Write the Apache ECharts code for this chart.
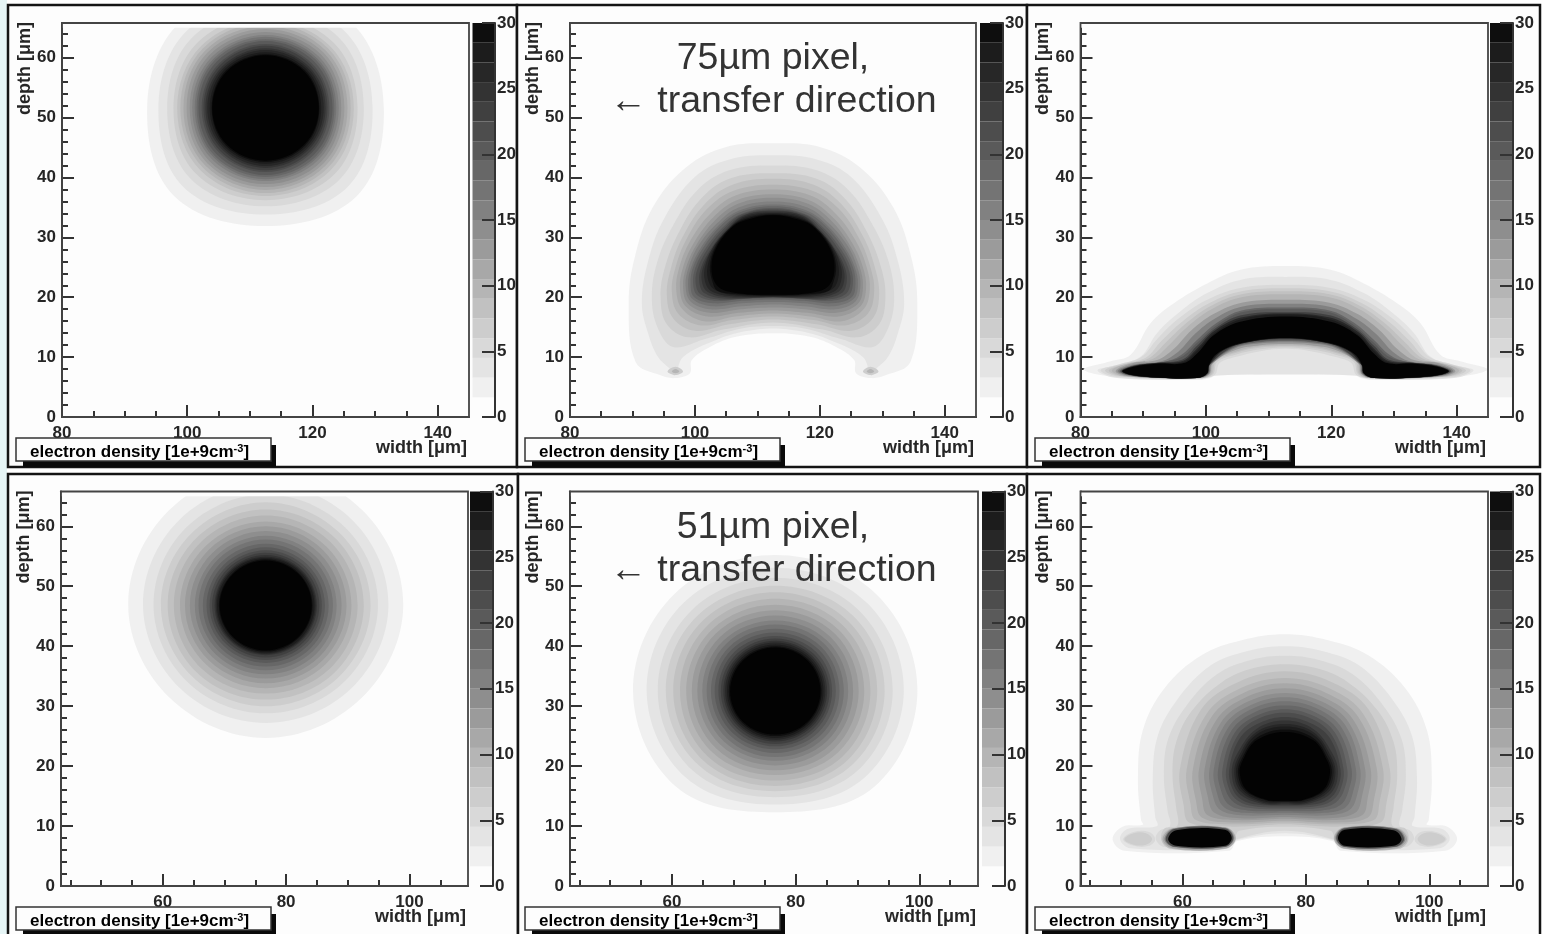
<!DOCTYPE html>
<html><head><meta charset="utf-8">
<style>html,body{margin:0;padding:0;background:#fff}#c{width:1546px;height:934px}</style>
<script src="https://cdn.jsdelivr.net/npm/echarts@6/dist/echarts.min.js"></script>
</head><body><div id="c"></div>
<script>
// ---- tick values ----
const topXMajor=[80,100,120,140];
const topXMinor=[85,90,95,105,110,115,125,130,135];
const botXMajor=[60,80,100];
const botXMinor=[45,50,55,65,70,75,85,90,95,105];
const yMajor=[0,10,20,30,40,50,60];
const yMinor=[2,4,6,8,12,14,16,18,22,24,26,28,32,34,36,38,42,44,46,48,52,54,56,58,62,64];
const scaleTicks=[0,5,10,15,20,25,30];
const scaleBands=[1.5,1.5,1.5,1.5,1.5,1.5,1.5,1.5,1.5,1.5,1.5,1.5,1.5,1.5,1.5,1.5,1.5,1.5,1.5,1.5];
// grey shade of each 1.5-wide density band (index = level / 1.5)
const greys=['#fdfdfd','#f0f0f0','#e4e4e4','#d9d9d9','#cdcdcd','#c1c1c1','#b5b5b5','#a8a8a8','#9b9b9b','#8e8e8e','#818181','#747474','#676767','#5a5a5a','#4d4d4d','#404040','#333333','#272727','#1c1c1c','#0e0e0e','#030303'];
const dataTopEdge=65;

// ---- near-round panels: level, reach (um) up, up-right, right, down-right, down ----
const blob1Centre=[112.5,51.6];
const blob1=[
[1.5,20,19.8,18.9,20.7,19.7],[3,18,18,17.1,18.6,17.8],[4.5,16.5,16.6,15.7,16.8,16.4],[6,15.4,15.4,14.7,15.6,15.4],
[7.5,14.7,14.6,14.1,14.7,14.7],[9,14.2,14.1,13.6,14.1,14.2],[10.5,13.7,13.6,13.1,13.6,13.7],[12,13.2,13.1,12.6,13.1,13.2],
[13.5,12.7,12.6,12.1,12.6,12.7],[15,12.2,12.1,11.7,12.1,12.2],[16.5,11.9,11.7,11.3,11.7,11.9],[18,11.5,11.4,11,11.4,11.5],
[19.5,11.2,11,10.7,11,11.2],[21,10.7,10.5,10.2,10.5,10.7],[22.5,10.4,10.2,9.9,10.2,10.4],[24,10,9.8,9.6,9.8,10],
[25.5,9.7,9.5,9.3,9.5,9.7],[27,9.3,9.2,8.9,9.2,9.3],[28.5,9,8.9,8.6,8.9,9],[30,8.8,8.7,8.5,8.7,8.8]];
const blob4Centre=[76.7,46.8];
const blob4=[
[1.5,22.8,22.3,22.3,21.9,22.1],[3,20.3,20,19.9,19.6,19.6],[4.5,18.5,18.3,18.2,18,18],[6,17.2,17,17,16.8,16.8],
[7.5,16,15.9,15.9,15.8,15.7],[9,15,14.9,14.9,14.8,14.7],[10.5,14,13.9,13.9,13.8,13.8],[12,13.2,13.1,13.1,13,13],
[13.5,12.4,12.3,12.3,12.2,12.2],[15,11.6,11.5,11.5,11.5,11.5],[16.5,11,10.9,10.9,10.8,10.8],[18,10.3,10.2,10.2,10.2,10.2],
[19.5,9.7,9.6,9.6,9.6,9.6],[21,9.2,9.1,9.1,9.1,9.1],[22.5,8.8,8.7,8.7,8.7,8.7],[24,8.4,8.3,8.3,8.3,8.3],
[25.5,8.1,8.1,8.1,8.1,8.1],[27,7.9,7.9,7.9,7.9,7.9],[28.5,7.7,7.6,7.6,7.6,7.7],[30,7.5,7.45,7.45,7.45,7.5]];
const blob5Centre=[76.7,32.5];
const blob5=[
[1.5,22.7,23,23,22.6,20.2],[3,20.6,20.9,20.8,20.4,18.9],[4.5,18.9,19.1,19,18.8,17.7],[6,17.6,17.8,17.7,17.5,16.7],
[7.5,16.5,16.6,16.5,16.4,15.8],[9,15.4,15.5,15.4,15.4,14.9],[10.5,14.4,14.5,14.4,14.4,14],[12,13.5,13.6,13.5,13.5,13.2],
[13.5,12.6,12.7,12.6,12.6,12.4],[15,11.8,11.9,11.8,11.8,11.6],[16.5,11.1,11.2,11.1,11.1,11],[18,10.4,10.5,10.4,10.4,10.3],
[19.5,9.8,9.9,9.8,9.8,9.7],[21,9.2,9.3,9.2,9.2,9.2],[22.5,8.8,8.8,8.8,8.8,8.8],[24,8.4,8.4,8.4,8.4,8.4],
[25.5,8.1,8.1,8.1,8.1,8.1],[27,7.8,7.8,7.8,7.8,7.8],[28.5,7.5,7.5,7.5,7.5,7.5],[30,7.3,7.3,7.3,7.3,7.25]];

// ---- arch panels: level, half outline as (offset from symmetry axis, depth) pairs ----
const arch2Axis=112.5;
const arch2=[
[1.5,[0,45.7,7.5,45.1,13.8,41.8,19.2,35.1,22.1,26.8,23.1,19,22,9.2,18.1,7,15.7,6.5,13.3,7.3,13,9.5,10.1,11.7,5.9,13.4,0,14]],
[3,[0,43.7,7,43,12.6,40,17.5,33,20,26,21,19,20,14,18.4,10,16.5,8,15.7,6.9,14.4,10,9,12.9,4.5,14.3,0,14.8]],
[4.5,[0,42,7,41.2,12,38,16,32,18.5,26,19.4,20,18.5,15,16,11.7,11,13,5,14.8,0,15.2]],
[6,[0,40.7,7,39.8,11.5,36.5,15,31,17.3,25,18,20,17,15.5,13.5,13.3,8,14.6,0,15.8]],
[7.5,[0,39.8,6.5,38.8,11,35.5,14.5,30,16.3,25,17,20.5,16,16.5,12.5,14.4,7,15.5,0,16.3]],
[9,[0,38.8,6.3,37.8,10.5,34.8,13.8,29.8,15.6,25,16.2,21,15.2,17.3,11.5,15.3,6.5,16.2,0,16.8]],
[10.5,[0,38,6,37,10,34,13.2,29.5,15,25,15.5,21.3,14.5,18,11,16,6,16.8,0,17.3]],
[12,[0,37.2,5.8,36.2,9.6,33.3,12.7,29,14.4,25,14.9,21.5,14,18.5,10.5,16.8,5.5,17.4,0,17.8]],
[13.5,[0,36.6,5.6,35.6,9.3,32.8,12.3,28.7,13.9,25,14.4,21.7,13.6,18.9,10.2,17.4,5.2,18,0,18.3]],
[15,[0,36,5.5,35,9,32.3,12,28.5,13.5,25,14,22,13.2,19.3,10,18,5,18.5,0,18.8]],
[16.5,[0,35.5,5.4,34.5,8.8,31.9,11.6,28.2,13.1,25,13.6,22.1,12.9,19.7,9.7,18.5,5,19,0,19.2]],
[18,[0,35.2,5.3,34.2,8.6,31.7,11.3,28.1,12.8,25,13.2,22.3,12.6,20,9.5,19,5,19.4,0,19.6]],
[19.5,[0,34.9,5.1,33.9,8.3,31.4,10.9,28,12.4,25,12.8,22.4,12.1,20.3,9,19.4,4.8,19.7,0,19.8]],
[21,[0,34.7,5,33.8,8,31.3,10.5,28,12,25,12.4,22.5,11.6,20.5,8.5,19.6,4.5,19.8,0,19.9]],
[22.5,[0,34.5,4.8,33.7,7.7,31.2,10,28,11.5,25,11.8,22.6,11,20.7,7.8,19.8,0,20]],
[24,[0,34.3,4.7,33.6,7.5,31.1,9.7,28.2,11.2,25,11.4,22.7,10.5,20.9,7.3,20,0,20.05]],
[25.5,[0,34.1,4.5,33.5,7.2,31.3,9.6,28.3,10.9,25,10.9,22.7,10,21.1,6.9,20.2,0,20.1]],
[27,[0,34,4.4,33.3,7,31.5,9.4,28.3,10.5,25,10.3,22.6,9.4,21.3,6.6,20.4,0,20.2]],
[28.5,[0,33.8,4.3,33.1,6.7,31.7,9.2,28.4,10.1,25.1,9.6,22.3,8.9,21.1,6.5,20.6,0,20.3]],
[30,[0,33.7,4.3,32.9,6.4,31.8,9,28.4,9.85,25.1,9,22,6.4,20.8,0,20.4]]];
const spots2=[[6,[16.9,7.6,15.6,8.4,14.4,7.6,15.6,7]],[9,[16.2,7.6,15.6,8,15,7.6,15.6,7.3]]];

const arch3Axis=112.7;
const arch3=[
[1.5,[0,25.2,7.2,24.6,12.5,22.3,17.8,19,21.5,15.7,24.7,10.4,27.9,9.3,32.2,7.9,25.8,6.5,13.6,6.2,12,6.5,10.9,7,0,7]],
[3,[0,23.4,7.2,22.9,12.5,20.7,16.8,17.6,20.5,14,23.1,10.1,26.9,8.7,30,7.8,26.9,6.5,13.6,6.3,11.4,6.9,0,7.2]],
[4.5,[0,22.1,7,21.6,12.5,19.6,17,16.5,20.5,13,23,10,26.5,8.8,29.5,7.8,27,6.7,14,6.4,11.3,7,10.5,9,8,10,4,11,0,11.4]],
[6,[0,21.5,7,21,12.2,19,16.4,16,19.8,12.7,22.3,9.9,25.8,8.9,28.8,7.8,26.5,6.8,14,6.45,11.6,7.1,10.9,9.2,8,10.4,4,11.3,0,11.6]],
[7.5,[0,21,7,20.5,12,18.5,15.9,15.6,19.2,12.3,21.8,9.8,25.2,8.9,28.2,7.8,26,6.8,14,6.45,11.8,7.1,11.1,9.3,8,10.7,4,11.6,0,11.8]],
[9,[0,20.5,7,20,11.8,18,15.5,15.2,18.6,12,21.2,9.7,24.8,9,27.7,7.8,25.7,6.8,14,6.5,12,7.1,11.3,9.4,8,10.9,4,11.8,0,12]],
[12,[0,19.6,7,19.1,11.5,17.2,15,14.5,17.8,11.4,20.5,9.5,24.3,9,27.1,7.7,25,6.8,14,6.5,12.1,7.2,11.6,9,8,11.2,4,12,0,12.2]],
[15,[0,18.9,7,18.4,11.3,16.4,14.5,13.8,17.1,10.9,19.8,9.3,24,8.8,26.8,7.7,24.3,6.8,14,6.5,12.2,7.2,11.8,8.8,8,11.5,4,12.3,0,12.5]],
[18,[0,18.3,7,17.8,11,15.7,14,13,16.7,10.3,19.4,9.2,24,8.7,26.5,7.65,23.8,6.8,14.1,6.5,12.3,7.25,12,8.8,8,11.7,4,12.5,0,12.7]],
[19.5,[0,18,7,17.5,11,15.3,14.1,12.4,16.6,10,20,9.1,24.1,8.6,26.4,7.6,23.6,6.8,14.1,6.5,12.3,7.3,12,8.8,8,11.8,4,12.6,0,12.8]],
[22.5,[0,17.5,7.1,17,11.2,14.8,14.2,11.8,16.4,9.6,20.5,9.05,24.2,8.55,26.2,7.6,23.4,6.8,14.1,6.5,12.4,7.3,12.1,8.75,8,12,4,12.8,0,13]],
[25.5,[0,17.3,7.1,16.6,11.3,14.4,14.2,11.3,16.3,9.4,20.5,9,24.2,8.5,26.1,7.6,23.3,6.8,14.1,6.5,12.45,7.3,12.15,8.7,9.5,11.4,5,12.7,0,13.1]],
[27,[0,17.1,7.15,16.3,11.35,14,14.15,11,16.25,9.2,20.5,8.95,24.2,8.45,26.05,7.6,23.2,6.8,14.1,6.5,12.5,7.3,12.2,8.7,10.2,11,6,12.5,0,13.15]],
[30,[0,16.8,7.2,15.9,11.4,13.7,14.1,10.6,16.2,9,20.5,8.9,24.2,8.4,26,7.6,23.1,6.8,14.1,6.5,12.5,7.3,12.2,8.7,10.9,10.6,7.2,12.3,0,13.2]]];

const arch6Axis=76.6;
const arch6=[
[1.5,[0,42,7,41,13.5,38.5,19.5,33,23,26,23.8,18,23.3,11,23,10.2,26.3,9.9,27.9,7.8,26,5.9,9,5.9,7.7,7.5,0,8.3]],
[3,[0,40,6,39.2,12,36.8,17.5,31,20.6,25,21.4,18,21,11.5,20.7,10,25.5,9.5,26.7,7.8,25,6.3,9.5,6.3,8,7.6,0,8.8]],
[4.5,[0,38.4,5.5,37.7,11,35.3,16,30,18.9,24.5,19.6,18.5,19,12.6,18.6,10,20.3,9.2,20.9,7.8,19.5,6.5,9.7,6.5,8.1,7.7,0,9.2]],
[6,[0,37,5.2,36.3,10.2,34,15,29.3,17.6,24,18.2,18.5,17.6,13,17.4,10.1,19.5,9.6,20,7.8,18.5,6.6,9.8,6.6,8.2,7.8,7.4,9.2,0,9.9]],
[7.5,[0,35.8,7.6,34,13.6,29.4,17,19.5,16.4,13.5,15.5,10.6,8.5,9.9,0,10.3]],
[9,[0,34.7,7.2,33,12.7,28.7,15.9,19.5,15.3,13.8,14.4,11,8,10.3,0,10.6]],
[10.5,[0,33.8,6.7,32.2,11.9,28.2,14.9,19.5,14.4,14.2,13.4,11.4,7.8,10.6,0,10.9]],
[12,[0,33,6.3,31.5,11.1,27.7,13.9,19.5,13.4,14.6,12.5,11.8,7.5,11,0,11.2]],
[13.5,[0,32.2,5.9,30.8,10.4,27.2,13,19.5,12.5,15,11.4,12.2,7.2,11.3,0,11.5]],
[15,[0,31.5,5.5,30.2,9.8,26.8,12.2,19.5,11.7,15.2,10.5,12.7,7,11.8,0,11.9]],
[16.5,[0,30.8,5.2,29.6,9.2,26.4,11.5,19.5,11,15.5,9.8,13.1,6.5,12.2,0,12.2]],
[18,[0,30.1,4.9,29,8.6,26,10.8,19.5,10.3,15.8,9,13.5,6,12.6,0,12.5]],
[19.5,[0,29.5,4.6,28.4,8.1,25.6,10.1,19.5,9.6,16,8.2,13.9,5.5,13,0,12.8]],
[21,[0,28.9,4.3,27.9,7.6,25.2,9.5,19.5,9,16.1,7.6,14.2,5,13.3,0,13.1]],
[22.5,[0,28.2,4.1,27.2,7.2,24.8,9,19.5,8.5,16.2,7,14.4,4.5,13.6,0,13.4]],
[24,[0,27.6,4.6,26.2,7.6,22.3,8.6,19,7.5,15.5,3.7,13.7,0,13.6]],
[25.5,[0,27,4.7,25.6,7.4,21.8,8.2,18.9,7.1,15.7,3.5,13.9,0,13.8]],
[27,[0,26.6,4.7,25.2,7.2,21.5,7.9,18.9,6.8,15.9,3.3,14.1,0,14]],
[28.5,[0,26.1,4.6,24.7,7,21.2,7.6,18.85,6.5,16,3.1,14.3,0,14.1]],
[30,[0,25.7,4.6,24.3,6.8,21,7.3,18.8,6.2,16,3,14.4,0,14.2]]];
const spots6=[
[4.5,[26.2,7.8,24.5,9,22,9,21,7.8,22,6.7,24.5,6.7]],
[6,[26,7.8,24.5,8.8,22.5,8.8,21.5,7.8,22.5,6.9,24.5,6.9]],
[7.5,[20,7.8,18.5,9.6,9.5,9.8,7.9,8,9.5,6.2,18.5,6.2]],
[10.5,[19.8,7.8,18.2,9.6,9.5,9.75,8,8,9.5,6.3,18.2,6.3]],
[15,[19.5,7.8,18,9.6,9.6,9.7,8.2,8,9.6,6.5,18,6.5]],
[21,[19.3,7.8,17.9,9.5,9.6,9.6,8.35,8,9.6,6.55,17.9,6.55]],
[30,[18.9,7.8,17.6,9.3,9.7,9.4,8.6,8,9.7,6.7,17.6,6.7]]];

// ---- text ----
const yTitle='depth [μm]', xTitle='width [μm]';
const note75=['75µm pixel,','← transfer direction'];
const note51=['51µm pixel,','← transfer direction'];

// ---- layout ----
const layout=[
{l:62,t:23,r:469,b:417,cl:472.5,cr:495,xMin:80,xMax:145,maj:topXMajor,min:topXMinor},
{l:570,t:23,r:976,b:417,cl:980,cr:1003,xMin:80,xMax:145,maj:topXMajor,min:topXMinor},
{l:1080.5,t:23,r:1488,b:417,cl:1490,cr:1513,xMin:80,xMax:145,maj:topXMajor,min:topXMinor},
{l:61,t:491.5,r:468,b:886,cl:470,cr:493,xMin:43.5,xMax:109.5,maj:botXMajor,min:botXMinor},
{l:570,t:491.5,r:978,b:886,cl:982,cr:1005,xMin:43.5,xMax:109.5,maj:botXMajor,min:botXMinor},
{l:1080.5,t:491.5,r:1488,b:886,cl:1490,cr:1513,xMin:43.5,xMax:109.5,maj:botXMajor,min:botXMinor}];

const S=Math.SQRT1_2;
function polarShape(row,c){ // half outline from the five reaches
  const [lv,u,ur,r,dr,d]=row;
  return {level:lv,axis:c[0],half:[[0,c[1]+u],[ur*S,c[1]+ur*S],[r,c[1]],[dr*S,c[1]-dr*S],[0,c[1]-d]]};
}
function pairs(f){const o=[];for(let i=0;i<f.length;i+=2)o.push([f[i],f[i+1]]);return o;}
function archShape(row,axis){return {level:row[0],axis,half:pairs(row[1])};}
function spotShape(row,axis){return {level:row[0],axis,spot:pairs(row[1])};}
function byLevel(a,b){return a.level-b.level;}
const shapes=[
 blob1.map(r=>polarShape(r,blob1Centre)),
 arch2.map(r=>archShape(r,arch2Axis)).concat(spots2.map(r=>spotShape(r,arch2Axis))).sort(byLevel),
 arch3.map(r=>archShape(r,arch3Axis)),
 blob4.map(r=>polarShape(r,blob4Centre)),
 blob5.map(r=>polarShape(r,blob5Centre)),
 arch6.map(r=>archShape(r,arch6Axis)).concat(spots6.map(r=>spotShape(r,arch6Axis))).sort(byLevel)];

const INK='#262626', LINE='#333', FONT='"Liberation Sans",Arial,sans-serif';
const labelStyle={color:INK,fontFamily:FONT,fontSize:17,fontWeight:'bold'};
const titleStyle={...labelStyle,fontSize:18};
const grid=[],xAxis=[],yAxis=[],series=[],graphic=[];

// frames
graphic.push({type:'rect',z:-10,shape:{x:0,y:0,width:7,height:934},style:{fill:'#e6f5f6'}});
[[8,5,509,462],[517,5,510,462],[1027,5,513,462],[8,474,510,466],[518,474,509,466],[1027,474,513,466]].forEach(f=>{
 graphic.push({type:'rect',z:-9,shape:{x:f[0],y:f[1],width:f[2],height:f[3]},style:{fill:'#fdfdfd',stroke:'#141414',lineWidth:2.5}});
});

layout.forEach((p,i)=>{
 const g=2*i, ax=3*i;
 grid.push({left:p.l,top:p.t,width:p.r-p.l,height:p.b-p.t});
 grid.push({left:p.cl,top:p.t,width:p.cr-p.cl,height:p.b-p.t});
 graphic.push({type:'rect',z:10,shape:{x:p.l,y:p.t,width:p.r-p.l,height:p.b-p.t},style:{fill:'none',stroke:'#444',lineWidth:1.8}});
 const line={color:LINE,width:2};
 // x: major, minor, colour-scale category
 xAxis.push({type:'value',gridIndex:g,position:'bottom',min:p.xMin,max:p.xMax,splitLine:{show:false},
  axisLine:{show:true,onZero:false,lineStyle:line},
  axisTick:{show:true,inside:true,length:12,customValues:p.maj,lineStyle:line},
  axisLabel:{show:true,customValues:p.maj,margin:8,showMinLabel:true,showMaxLabel:true,...labelStyle},
  name:xTitle,nameLocation:'end',nameGap:-2,nameMoveOverlap:false,
  nameTextStyle:{...titleStyle,align:'right',verticalAlign:'top',padding:[22,0,0,0]}});
 xAxis.push({type:'value',gridIndex:g,position:'bottom',min:p.xMin,max:p.xMax,splitLine:{show:false},
  axisLine:{show:false,onZero:false},axisLabel:{show:false},
  axisTick:{show:true,inside:true,length:6,customValues:p.min,lineStyle:line}});
 xAxis.push({type:'category',gridIndex:g+1,data:['scale'],show:false});
 // y: major, minor, colour-scale
 yAxis.push({type:'value',gridIndex:g,position:'left',min:0,max:65.8,splitLine:{show:false},
  axisLine:{show:true,onZero:false,lineStyle:line},
  axisTick:{show:true,inside:true,length:12,customValues:yMajor,lineStyle:line},
  axisLabel:{show:true,customValues:yMajor,margin:6,showMinLabel:true,...labelStyle},
  name:yTitle,nameLocation:'end',nameRotate:90,nameGap:1,nameMoveOverlap:false,
  nameTextStyle:{...titleStyle,align:'right',verticalAlign:'bottom',padding:[0,0,28,0]}});
 yAxis.push({type:'value',gridIndex:g,position:'left',min:0,max:65.8,splitLine:{show:false},
  axisLine:{show:false,onZero:false},axisLabel:{show:false},
  axisTick:{show:true,inside:true,length:6,customValues:yMinor,lineStyle:line}});
 yAxis.push({type:'value',gridIndex:g+1,position:'right',min:0,max:30,z:5,splitLine:{show:false},
  axisLine:{show:true,onZero:false,lineStyle:line},
  axisTick:{show:true,inside:true,length:13,customValues:scaleTicks,lineStyle:line},
  axisLabel:{show:true,customValues:scaleTicks,margin:2,showMinLabel:true,showMaxLabel:true,...labelStyle}});
 // density contours
 const list=shapes[i];
 series.push({type:'custom',coordinateSystem:'cartesian2d',xAxisIndex:ax,yAxisIndex:ax,clip:true,silent:true,
  animation:false,data:list.map((s,k)=>[k]).concat([[-1]]),
  renderItem:(params,api)=>{
   const k=api.value(0);
   if(k<0){ // nothing was computed above this depth
    const a=api.coord([p.xMin,65.8]), b=api.coord([p.xMax,dataTopEdge]);
    return {type:'rect',shape:{x:a[0],y:a[1],width:b[0]-a[0],height:b[1]-a[1]},style:{fill:'#fdfdfd'}};
   }
   const s=list[k]; const col=greys[Math.round(s.level/1.5)];
   if(s.spot){
    const mk=sign=>({type:'polygon',shape:{points:s.spot.map(q=>api.coord([s.axis+sign*q[0],q[1]])),smooth:0.37},style:{fill:col}});
    return {type:'group',children:[mk(1),mk(-1)]};
   }
   const right=s.half.map(q=>[s.axis+q[0],q[1]]);
   const left=s.half.slice(1,-1).reverse().map(q=>[s.axis-q[0],q[1]]);
   return {type:'polygon',shape:{points:right.concat(left).map(q=>api.coord(q)),smooth:0.37},style:{fill:col}};
  }});
 // colour scale
 scaleBands.forEach((w,b)=>series.push({type:'bar',z:1,xAxisIndex:ax+2,yAxisIndex:ax+2,stack:'scale'+i,barWidth:'100%',
  silent:true,animation:false,data:[w],itemStyle:{color:greys[b]}}));
 // density label box
 const top=i<3?438:907, bx=[16,525,1035,16,525,1035][i];
 graphic.push({type:'rect',z:20,shape:{x:bx+7,y:top+7,width:253,height:i<3?22:27},style:{fill:'#0a0a0a'}});
 graphic.push({type:'rect',z:21,shape:{x:bx,y:top,width:255,height:23},style:{fill:'#fdfdfd',stroke:'#333',lineWidth:1.5}});
 graphic.push({type:'text',z:22,x:bx+14,y:top+14,style:{
   text:'{a|electron density [1e+9cm}{s|-3}{a|]}',verticalAlign:'middle',
   rich:{a:{...labelStyle,fontSize:17,lineHeight:18},s:{...labelStyle,fontSize:11,lineHeight:18,verticalAlign:'top'}}}});
});

function note(lines,y1,y2){
 graphic.push({type:'text',z:25,x:773,y:y1,style:{text:lines[0],font:'37.5px '+FONT,fill:'#333',align:'center',verticalAlign:'middle'}});
 graphic.push({type:'text',z:25,x:773,y:y2,style:{text:lines[1],font:'37.5px '+FONT,fill:'#333',align:'center',verticalAlign:'middle'}});
}
note(note75,59,102);
note(note51,528,571);

const chart=echarts.init(document.getElementById('c'),null,{renderer:'canvas'});
chart.setOption({animation:false,backgroundColor:'#fff',grid,xAxis,yAxis,series,graphic});
</script></body></html>
